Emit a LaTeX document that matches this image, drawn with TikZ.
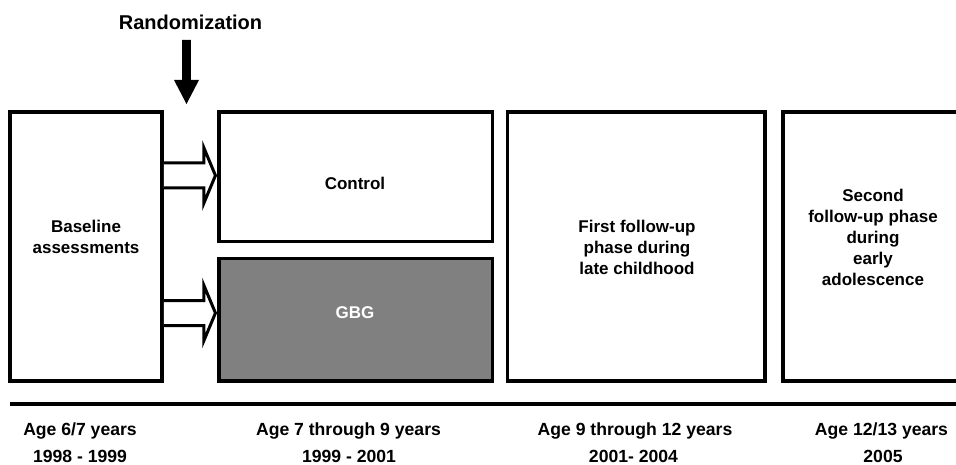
\documentclass[tikz,border=0pt]{standalone}
\usepackage{fontspec}
\setmainfont{Liberation Sans}
\usetikzlibrary{calc}

\tikzset{
  phase/.style={draw=black, line width=3.5pt, inner sep=0pt, fill=white},
  boxtext/.style={font=\bfseries\fontsize{17}{21}\selectfont, align=center, inner sep=0pt},
  agetext/.style={font=\bfseries\fontsize{17.6}{21}\selectfont, inner sep=0pt},
  blockarrow/.style={draw=black, line width=3pt, line join=miter, fill=white},
}

\begin{document}
\begin{tikzpicture}[x=1pt, y=-1pt]
  \useasboundingbox (0,0) rectangle (956,465);
  \clip (0,0) rectangle (956,465);

  % study phases
  \node[phase, minimum width=152pt, minimum height=269pt] (baseline) at (86,246.5) {};
  \node[phase, minimum width=273.5pt, minimum height=129.5pt] (control) at (355.75,176.75) {};
  \node[phase, fill={rgb,255:red,128;green,128;blue,128}, minimum width=273.5pt, minimum height=122.5pt] (gbg) at (355.75,319.75) {};
  \node[phase, minimum width=257.5pt, minimum height=269pt] (first) at (636.25,246.5) {};
  \node[phase, minimum width=180pt, minimum height=269pt] (second) at (873,246.5) {};

  % phase labels
  \node[boxtext] (tbaseline) at (86,237) {Baseline\\assessments};
  \node[boxtext] (tcontrol) at (355,183) {Control};
  \node[boxtext, text=white] (tgbg) at (355,313) {GBG};
  \node[boxtext] (tfirst) at (637,247) {First follow-up\\phase during\\late childhood};
  \node[boxtext] (tsecond) at (873,237) {Second\\follow-up phase\\during\\early\\adolescence};

  % allocation arrows from baseline into the two arms
  \coordinate (a1) at (baseline.east |- 0,175.5);
  \coordinate (a2) at (baseline.east |- 0,313);
  \foreach \a/\t in {a1/control, a2/gbg}{
    \draw[blockarrow] ($(\a)+(0,-12.5)$) -- ($(\a)+(40,-12.5)$) -- ($(\a)+(40,-28)$)
      -- ($(\a -| \t.west)+(-1.8,0)$) -- ($(\a)+(40,28)$) -- ($(\a)+(40,12.5)$)
      -- ($(\a)+(0,12.5)$);
  }

  % randomization marker
  \node[font=\bfseries\fontsize{20}{24}\selectfont, inner sep=0pt] (rand) at (190.5,22) {Randomization};
  \coordinate (rtip) at (186.5,104);
  \fill[black] ($(rtip)+(-4.3,-64)$) -- ($(rtip)+(4.3,-64)$) -- ($(rtip)+(4.3,-24)$)
    -- ($(rtip)+(12.5,-24)$) -- (rtip) -- ($(rtip)+(-12.5,-24)$) -- ($(rtip)+(-4.3,-24)$) -- cycle;

  % time axis
  \coordinate (axl) at (10,404);
  \coordinate (axr) at (960,404);
  \draw[line width=4.5pt] (axl) -- (axr);

  % ages and calendar years
  \node[agetext] (age1) at (80,431) {Age 6/7 years};
  \node[agetext] (yr1) at (80,456.5) {1998 - 1999};
  \node[agetext] (age2) at (348.5,430.5) {Age 7 through 9 years};
  \node[agetext] (yr2) at (349,456) {1999 - 2001};
  \node[agetext] (age3) at (635,430.5) {Age 9 through 12 years};
  \node[agetext] (yr3) at (633.5,456) {2001- 2004};
  \node[agetext] (age4) at (881.5,430.5) {Age 12/13 years};
  \node[agetext] (yr4) at (883,456) {2005};
\end{tikzpicture}
\end{document}
